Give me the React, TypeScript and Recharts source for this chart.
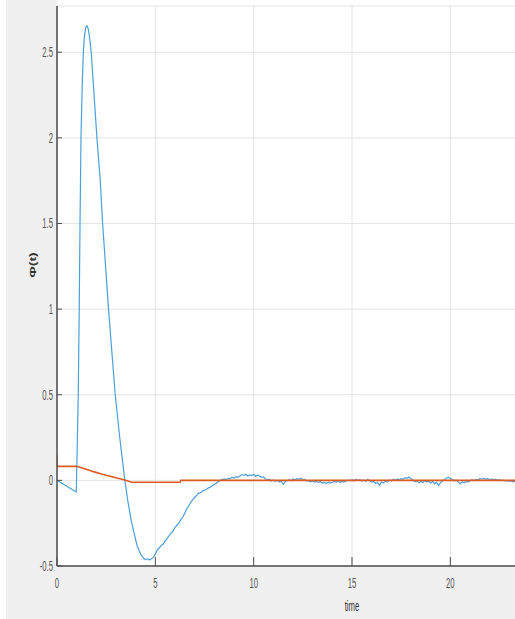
import { LineChart, Line, XAxis, YAxis, CartesianGrid } from "recharts";

// response signal, hand-sampled through the jump, peak and undershoot
const blueTime = [
  0, 0.98, 1.03, 1.08, 1.13, 1.17, 1.22, 1.28, 1.34, 1.4, 1.46, 1.52, 1.58, 1.64, 1.74, 1.88, 2.03, 2.2,
  2.32, 2.62, 2.96, 3.2, 3.45, 3.6, 3.8, 4.07, 4.25, 4.4, 4.5, 4.6, 4.7, 4.84, 4.92,
];
const blueValue = [
  0, -0.068, 0.2, 0.5, 1.0, 1.5, 2.0, 2.3, 2.5, 2.6, 2.645, 2.655, 2.64, 2.6, 2.5, 2.26, 2.0, 1.75,
  1.5, 1.0, 0.5, 0.24, 0.0, -0.12, -0.25, -0.38, -0.43, -0.455, -0.462, -0.458, -0.465, -0.455, -0.445,
];

// recovery and settling, sampled every 0.1 s from t = 5.0
const tailStart = 5.0;
const tailStep = 0.1;
const tailValue = [
  -0.43, -0.405, -0.395, -0.38, -0.372, -0.352, -0.34, -0.322, -0.31, -0.296,
  -0.274, -0.262, -0.25, -0.228, -0.214, -0.19, -0.166, -0.148, -0.128, -0.112,
  -0.1, -0.088, -0.074, -0.072, -0.062, -0.058, -0.052, -0.044, -0.04, -0.03,
  -0.022, -0.016, -0.008, 0.0, 0.004, 0.008, 0.004, 0.012, 0.01, 0.018,
  0.014, 0.022, 0.018, 0.026, 0.034, 0.03, 0.036, 0.026, 0.032, 0.028,
  0.034, 0.024, 0.03, 0.026, 0.018, 0.02, 0.008, 0.004, 0.006, -0.004,
  0.002, -0.006, 0.0, -0.01, -0.004, -0.024, -0.008, -0.002, 0.004, -0.004,
  0.008, 0.004, 0.01, 0.006, 0.012, 0.002, 0.006, -0.004, -0.002, -0.008,
  -0.004, -0.01, -0.006, -0.012, -0.008, -0.016, -0.012, -0.018, -0.01, -0.016,
  -0.012, -0.006, -0.01, -0.004, -0.012, -0.006, -0.01, -0.004, 0.002, -0.002,
  0.004, -0.004, 0.006, 0.0, 0.004, -0.004, 0.002, -0.006, 0.006, -0.002,
  -0.01, -0.006, -0.018, -0.012, -0.028, -0.01, -0.016, -0.004, -0.01, 0.002,
  -0.004, 0.006, 0.0, 0.008, 0.004, 0.01, 0.006, 0.016, 0.012, 0.02,
  0.01, 0.002, -0.008, -0.004, -0.014, -0.006, -0.012, -0.002, -0.01, -0.004,
  -0.016, -0.006, -0.02, -0.01, -0.03, -0.012, -0.004, 0.004, 0.012, 0.018,
  0.01, 0.006, -0.004, 0.002, -0.01, -0.02, -0.008, -0.014, -0.006, -0.01,
  -0.002, 0.004, -0.002, 0.006, 0.002, 0.01, 0.008, 0.012, 0.006, 0.01,
  0.004, 0.008, 0.002, 0.006, 0.0, 0.004, -0.002, 0.002, -0.004, 0.0,
  -0.006, -0.002, -0.01, -0.004, 0.002,
];

// reference / control signal
const orangeTime = [0, 0.01, 1.01, 1.4, 1.86, 2.3, 2.7, 3.1, 3.4, 3.8, 6.25, 6.3, 24];
const orangeValue = [0.146, 0.082, 0.082, 0.068, 0.051, 0.036, 0.024, 0.012, 0.004, -0.011, -0.011, 0.0, 0.0];

// only the ticks inside the visible part of the 0..30 axis
const xTicks = [0, 5, 10, 15, 20];
const yTicks = [-0.5, 0, 0.5, 1, 1.5, 2, 2.5];

const PLOT_LEFT = 57;
const PLOT_BOTTOM = 566;
const AXIS_COLOR = "#4d4d4d";
const LABEL_COLOR = "#555";
const FONT = "'Liberation Sans', Arial, sans-serif";

type Row = { t: number; phi?: number; ref?: number };

function buildRows(): Row[] {
  const map = new Map<number, Row>();
  const put = (t: number, key: "phi" | "ref", v: number) => {
    const k = +t.toFixed(2);
    const row = map.get(k) ?? { t: k };
    row[key] = v;
    map.set(k, row);
  };
  blueTime.forEach((t, i) => put(t, "phi", blueValue[i]));
  tailValue.forEach((v, i) => put(tailStart + i * tailStep, "phi", v));
  orangeTime.forEach((t, i) => put(t, "ref", orangeValue[i]));
  return [...map.values()].sort((a, b) => a.t - b.t);
}

const rows = buildRows();

const XTick = (props: any) => {
  const { x, payload } = props;
  return (
    <g>
      <line x1={x} x2={x} y1={PLOT_BOTTOM} y2={PLOT_BOTTOM - 9} stroke={AXIS_COLOR} strokeWidth={1} />
      <text
        transform={`translate(${x},588) scale(0.55,1)`}
        textAnchor="middle"
        fontFamily={FONT}
        fontSize={14}
        fill={LABEL_COLOR}
      >
        {String(payload.value)}
      </text>
    </g>
  );
};

const YTick = (props: any) => {
  const { y, payload } = props;
  return (
    <g>
      <line x1={PLOT_LEFT} x2={PLOT_LEFT + 5} y1={y} y2={y} stroke={AXIS_COLOR} strokeWidth={1} />
      <text
        transform={`translate(53,${y + 5}) scale(0.55,1)`}
        textAnchor="end"
        fontFamily={FONT}
        fontSize={14}
        fill={LABEL_COLOR}
      >
        {String(payload.value)}
      </text>
    </g>
  );
};

export default function App() {
  return (
    <div
      style={{
        position: "absolute",
        left: 0,
        top: 0,
        width: 515,
        height: 619,
        overflow: "hidden",
        background: "#fff",
      }}
    >
      <div style={{ position: "absolute", left: 6, top: 0, width: 509, height: 619, background: "#f0f0f0" }} />
      <div style={{ position: "absolute", left: PLOT_LEFT, top: 0, width: 458, height: 6, background: "#fff" }} />
      <div style={{ position: "absolute", left: 0, top: 0 }}>
        <LineChart width={700} height={619} data={rows} margin={{ top: 6, right: 53, left: 17, bottom: 23 }}>
          <CartesianGrid stroke="#e4e4e4" strokeWidth={1} fill="#fff" />
          <XAxis
            dataKey="t"
            type="number"
            domain={[0, 30]}
            ticks={xTicks}
            allowDataOverflow
            height={30}
            axisLine={{ stroke: AXIS_COLOR, strokeWidth: 1.5 }}
            tickLine={false}
            tick={XTick}
          />
          <YAxis
            type="number"
            domain={[-0.5, 2.77]}
            ticks={yTicks}
            allowDataOverflow
            width={40}
            axisLine={{ stroke: AXIS_COLOR, strokeWidth: 1.5 }}
            tickLine={false}
            tick={YTick}
          />
          <Line
            type="linear"
            dataKey="phi"
            stroke="#4d9fda"
            strokeWidth={1.2}
            dot={false}
            connectNulls
            isAnimationActive={false}
          />
          <Line
            type="linear"
            dataKey="ref"
            stroke="#dd5a20"
            strokeWidth={1.6}
            dot={false}
            connectNulls
            isAnimationActive={false}
          />
        </LineChart>
      </div>
      <svg width={515} height={619} style={{ position: "absolute", left: 0, top: 0, pointerEvents: "none" }}>
        <text
          transform="translate(33,265) rotate(-90) scale(1,0.6)"
          textAnchor="middle"
          dominantBaseline="central"
          fontFamily={FONT}
          fontSize={14}
          fontWeight="bold"
          fill="#333"
        >
          Φ(t)
        </text>
        <text
          transform="translate(352,611) scale(0.55,1)"
          textAnchor="middle"
          fontFamily={FONT}
          fontSize={14}
          fill="#333"
        >
          time
        </text>
      </svg>
    </div>
  );
}
